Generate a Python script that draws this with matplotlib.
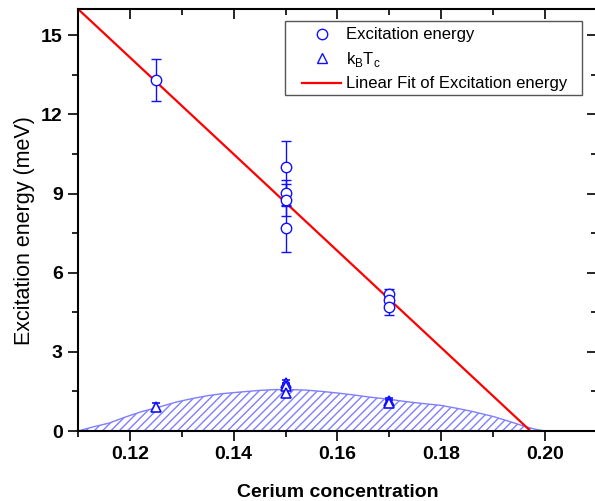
import matplotlib
matplotlib.use("Agg")
import matplotlib.pyplot as plt
from matplotlib.lines import Line2D
from matplotlib.patches import Rectangle
from matplotlib.ticker import MultipleLocator

plt.rcParams['font.family'] = ['Liberation Sans', 'DejaVu Sans']
plt.rcParams['hatch.linewidth'] = 1.0

# excitation energy (circles)
exc_x = [0.125, 0.15, 0.15, 0.15, 0.15, 0.17, 0.17, 0.17]
exc_y = [13.3, 10.0, 9.02, 8.77, 7.68, 5.2, 4.96, 4.7]
exc_err = [0.8, 1.0, 0.48, 0.6, 0.88, 0.18, 0.2, 0.3]

# k_B T_c (triangles)
kbt_x = [0.125, 0.15, 0.15, 0.15, 0.17, 0.17]
kbt_y = [0.92, 1.82, 1.72, 1.43, 1.12, 1.05]
kbt_err = [0.14, 0.1, 0.1, 0.12, 0.12, 0.12]

# linear fit end points
fit_x = [0.11, 0.1972]
fit_y = [16.0, 0.0]

# hatched dome outline
dome_x = [0.110, 0.113, 0.116, 0.119, 0.122, 0.126, 0.129, 0.132, 0.135, 0.138, 0.142,
          0.145, 0.148, 0.151, 0.154, 0.157, 0.160, 0.163, 0.166, 0.170, 0.173, 0.176,
          0.180, 0.183, 0.186, 0.190, 0.193, 0.196, 0.198, 0.200]
dome_y = [0.0, 0.16, 0.30, 0.52, 0.72, 0.93, 1.10, 1.23, 1.34, 1.42, 1.49,
          1.54, 1.57, 1.57, 1.55, 1.50, 1.44, 1.37, 1.29, 1.20, 1.12, 1.05,
          0.97, 0.86, 0.74, 0.55, 0.37, 0.18, 0.07, 0.0]

xticks = [0.12, 0.14, 0.16, 0.18, 0.20]
yticks = [0, 3, 6, 9, 12, 15]

blue = '#1010ff'

fig = plt.figure(figsize=(5.95, 5.01), dpi=100)
rect = [78/595, 1 - 431/501, 519/595, 422/501]
ax = fig.add_axes(rect)

ax.fill_between(dome_x, 0, dome_y, facecolor='white', edgecolor='#7f7fff',
                hatch='////', linewidth=1.0, zorder=1)
ax.plot(fit_x, fit_y, color='red', lw=1.6, zorder=2)

ax.errorbar(exc_x, exc_y, yerr=exc_err, fmt='o', ms=7.5, mfc='white', mec=blue,
            mew=1.0, ecolor=blue, elinewidth=1.0, capsize=3.5, capthick=1.0, zorder=3)
ax.errorbar(kbt_x, kbt_y, yerr=kbt_err, fmt='^', ms=7, mfc='white', mec=blue,
            mew=1.2, ecolor=blue, elinewidth=1.0, capsize=3.0, capthick=1.0, zorder=3)

ax.set_xlim(0.11, 0.21)
ax.set_ylim(0, 16)
ax.set_xticks(xticks)
ax.set_yticks(yticks)
ax.set_xticklabels(['%.2f' % v for v in xticks])
ax.xaxis.set_minor_locator(MultipleLocator(0.01))
ax.yaxis.set_minor_locator(MultipleLocator(1.5))

for s in ax.spines.values():
    s.set_linewidth(1.5)

ax.tick_params(which='both', direction='out', width=1.2, labelsize=14, pad=4)
ax.tick_params(which='major', length=7)
ax.tick_params(which='minor', length=4)
for lab in ax.get_xticklabels() + ax.get_yticklabels():
    lab.set_fontweight('bold')

# top and right ticks point inward, no labels
ax2 = fig.add_axes(rect, frameon=False, sharex=ax, sharey=ax)
ax2.patch.set_visible(False)
ax2.tick_params(which='both', direction='in', width=1.2, bottom=False, left=False,
                top=True, right=True, labelbottom=False, labelleft=False)
ax2.tick_params(which='major', length=7)
ax2.tick_params(which='minor', length=4)

ax.set_xlabel('Cerium concentration', fontsize=14, fontweight='bold', labelpad=15)
ax.set_ylabel('Excitation energy (meV)', fontsize=15.5)
ax.yaxis.set_label_coords(-0.083, 0.476)

handles = [
    Line2D([], [], ls='none', marker='o', ms=7.5, mfc='none', mec=blue, mew=1.0),
    Line2D([], [], ls='none', marker='^', ms=7.5, mfc='none', mec=blue, mew=1.0),
    Line2D([], [], color='red', lw=1.6),
]
labels = ['Excitation energy', r'k$_\mathregular{B}$T$_\mathregular{c}$',
          'Linear Fit of Excitation energy']
leg = ax2.legend(handles, labels, loc='upper left', fontsize=12, frameon=False,
                 borderaxespad=0, bbox_to_anchor=(299/595, 1 - 24/501),
                 bbox_transform=fig.transFigure, handlelength=2.3,
                 handletextpad=0.3, labelspacing=0.45, borderpad=0.2)
fig.patches.append(Rectangle((285/595, 1 - 95/501), 297/595, 74/501,
                             transform=fig.transFigure, fill=False,
                             edgecolor='#555555', lw=1.0, zorder=5))

fig.savefig('out.png', dpi=100)
